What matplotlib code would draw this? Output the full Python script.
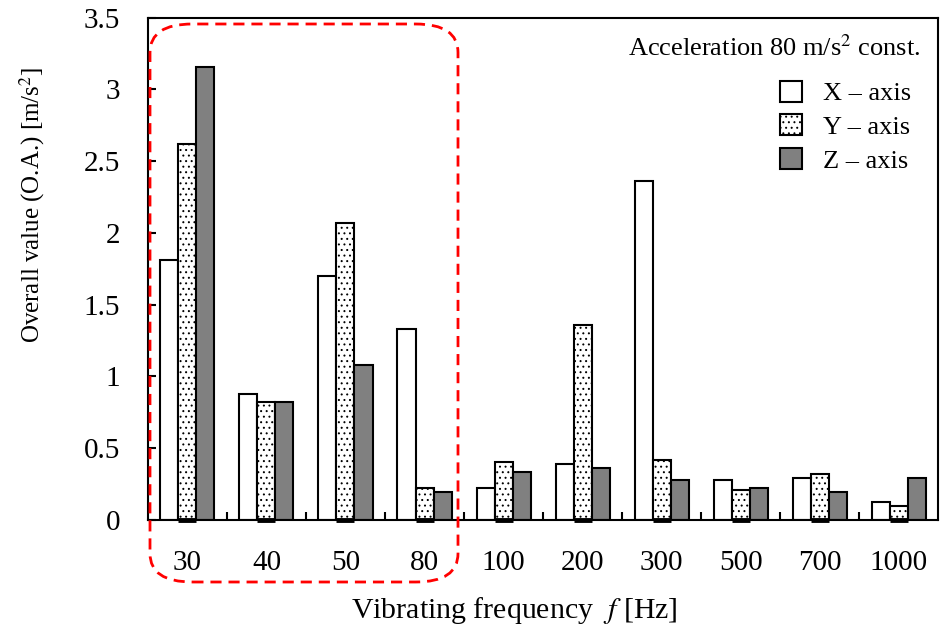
import numpy as np
import matplotlib.pyplot as plt
from matplotlib.patches import FancyBboxPatch

plt.rcParams['font.family'] = ['Liberation Serif', 'DejaVu Serif']
plt.rcParams['mathtext.fontset'] = 'stix'
plt.rcParams['hatch.linewidth'] = 0.7

# Frecuencias de excitación y valores globales por eje
freqs = ['30', '40', '50', '80', '100', '200', '300', '500', '700', '1000']
x_axis = [1.81, 0.88, 1.70, 1.33, 0.225, 0.39, 2.36, 0.28, 0.29, 0.128]
y_axis = [2.62, 0.82, 2.07, 0.225, 0.40, 1.36, 0.42, 0.21, 0.32, 0.098]
z_axis = [3.16, 0.82, 1.08, 0.195, 0.335, 0.36, 0.28, 0.22, 0.195, 0.29]

fig = plt.figure(figsize=(9.42, 6.34), dpi=100)
ax = fig.add_axes([0.157, 0.18, 0.839, 0.792])

pos = np.arange(len(freqs))
w = 0.228
ax.bar(pos - w, x_axis, w, color='white', edgecolor='black', linewidth=1.5, label='X – axis')
ax.bar(pos, y_axis, w, color='white', edgecolor='black', linewidth=1.5, hatch='...', label='Y – axis')
ax.bar(pos + w, z_axis, w, color='#808080', edgecolor='black', linewidth=1.5, label='Z – axis')
# trazo grueso bajo las barras punteadas
ax.hlines(np.zeros(len(pos)), pos - w / 2, pos + w / 2, color='black',
          linewidth=3.5, clip_on=False, zorder=4)

ax.set_xlim(-0.5, len(freqs) - 0.5)
ax.set_ylim(0, 3.5)
ax.set_yticks(np.arange(0, 3.51, 0.5))
ax.set_yticklabels(['0', '0.5', '1', '1.5', '2', '2.5', '3', '3.5'])
ax.set_xticks(pos)
ax.set_xticklabels(freqs)
ax.set_xticks(pos[:-1] + 0.5, minor=True)
ax.tick_params(axis='x', which='major', length=0, pad=22, labelsize=21)
ax.tick_params(axis='x', which='minor', direction='in', length=6, width=1.5)
ax.tick_params(axis='y', direction='in', length=6, width=1.5, labelsize=21, pad=20)
for s in ax.spines.values():
    s.set_linewidth(1.5)

ax.set_ylabel('Overall value (O.A.) [m/s$^2$]', fontsize=18)
ax.yaxis.set_label_coords(-0.128, 0.627)
ax.set_xlabel('Vibrating frequency  $f$ [Hz]', fontsize=21.5)
ax.xaxis.set_label_coords(0.463, -0.15)

ax.text(0.977, 0.94, 'Acceleration 80 m/s$^2$ const.', transform=ax.transAxes,
        ha='right', va='center', fontsize=19)
ax.legend(loc='upper right', bbox_to_anchor=(0.966, 0.875), frameon=False,
          fontsize=19, handlelength=0.85, handleheight=0.85, handletextpad=0.8,
          labelspacing=0.35, borderaxespad=0, borderpad=0)

# Recuadro punteado rojo sobre las frecuencias bajas
box = FancyBboxPatch((150 / 942, (634 - 582) / 634), 308 / 942, 558 / 634,
                     boxstyle='round,pad=0,rounding_size=0.045',
                     transform=fig.transFigure, fill=False, edgecolor='red',
                     linestyle=(0, (4, 2.5)), linewidth=2, clip_on=False, zorder=5)
fig.patches.append(box)

fig.savefig('out.png', dpi=100)
